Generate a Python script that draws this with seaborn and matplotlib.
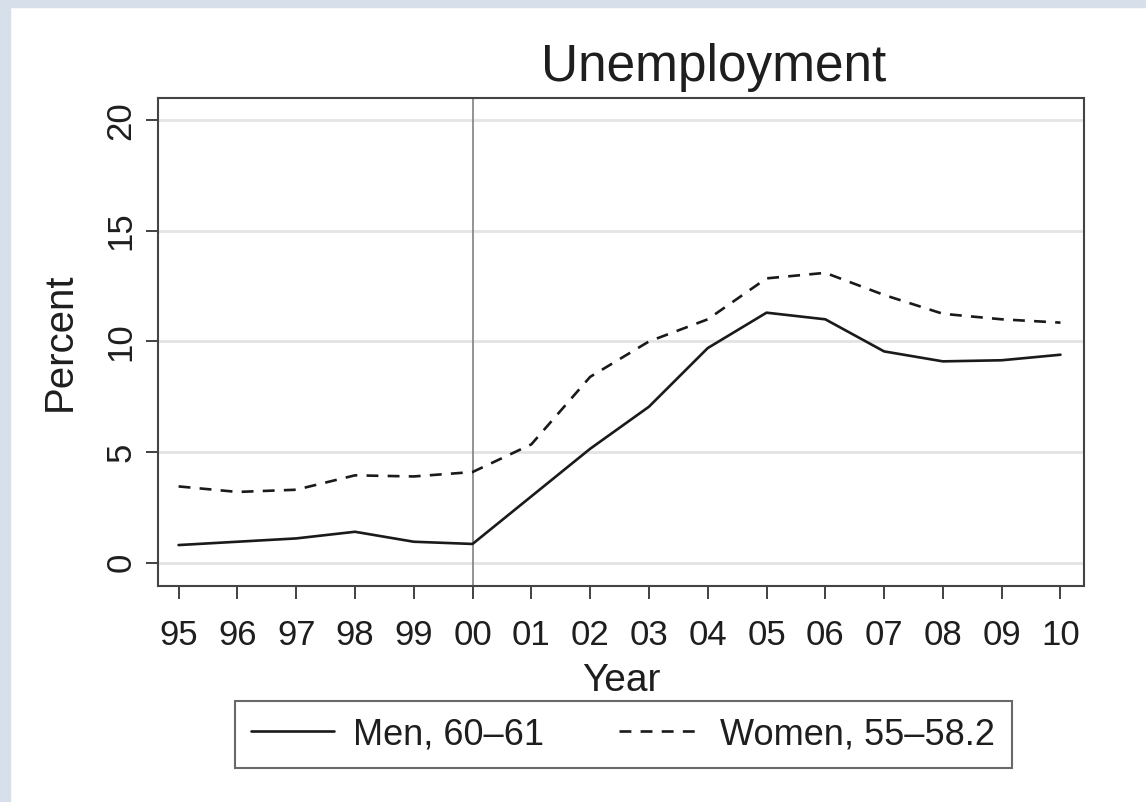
import numpy as np
import pandas as pd
import matplotlib
matplotlib.use("Agg")
import matplotlib.pyplot as plt
from matplotlib.patches import Rectangle
import seaborn as sns

# 연도 라벨과 두 그룹의 실업률(%)
year_labels = ['95', '96', '97', '98', '99', '00', '01', '02',
               '03', '04', '05', '06', '07', '08', '09', '10']
men_60_61 = [0.8, 0.95, 1.1, 1.4, 0.95, 0.85, 3.0, 5.15,
             7.05, 9.7, 11.3, 11.0, 9.55, 9.1, 9.15, 9.4]
women_55_58 = [3.45, 3.2, 3.3, 3.95, 3.9, 4.1, 5.35, 8.4,
               10.0, 11.0, 12.85, 13.1, 12.1, 11.25, 11.0, 10.85]
series_names = ['Men, 60\u201361', 'Women, 55\u201358.2']
reform_year = '00'
y_ticks = [0, 5, 10, 15, 20]

sns.set_theme(style='white')
plt.rcParams['font.family'] = ['Liberation Sans', 'DejaVu Sans']

df = pd.DataFrame({
    'pos': list(range(len(year_labels))) * 2,
    'value': men_60_61 + women_55_58,
    'series': [series_names[0]] * len(year_labels) + [series_names[1]] * len(year_labels),
})

fig = plt.figure(figsize=(11.46, 8.02), dpi=100)
fig.patch.set_facecolor('white')
# 바깥 테두리 (위/왼쪽 연한 회청색)
fig.patches.append(Rectangle((0, 0), 10 / 1146, 1, transform=fig.transFigure,
                             color='#d7e0ea', zorder=0))
fig.patches.append(Rectangle((0, 1 - 7 / 802), 1, 7 / 802, transform=fig.transFigure,
                             color='#d7e0ea', zorder=0))

ax = fig.add_axes([158 / 1146, 1 - 586 / 802, (1084 - 158) / 1146, (586 - 98) / 802])

lw = 1.9
sns.lineplot(data=df, x='pos', y='value', style='series',
             dashes={series_names[0]: '', series_names[1]: (4.5, 3.5)},
             color='#1a1a1a', linewidth=lw, legend=False, ax=ax)

for yt in y_ticks:
    ax.axhline(yt, color='#e3e3e3', lw=2, zorder=0)
ax.axvline(year_labels.index(reform_year), color='#8a8a8a', lw=1.3, zorder=1)

ax.set_xlim(-0.35, 15.4)
ax.set_ylim(-1.05, 21.0)
ax.set_xticks(range(len(year_labels)))
ax.set_xticklabels(year_labels)
ax.set_yticks(y_ticks)
ax.set_yticklabels([str(v) for v in y_ticks], rotation=90, va='center')
ax.tick_params(axis='both', which='both', direction='out', length=9, width=1.3,
               color='#333333', labelsize=25, labelcolor='#1e1e1e', pad=6,
               bottom=True, left=True)
ax.tick_params(axis='x', pad=15)

for sp in ax.spines.values():
    sp.set_color('#444444')
    sp.set_linewidth(1.5)

ax.set_xlabel('Year', fontsize=28, color='#1e1e1e', labelpad=8)
ax.set_ylabel('Percent', fontsize=29, color='#1e1e1e', labelpad=18)
ax.set_title('Unemployment', fontsize=37, color='#1e1e1e', x=0.6, pad=12)

handles = [plt.Line2D([], [], color='#1a1a1a', lw=lw),
           plt.Line2D([], [], color='#1a1a1a', lw=lw, dashes=(4.5, 3.5))]
leg = fig.legend(handles, series_names, loc='center', bbox_to_anchor=(0.544, 0.084),
                 ncol=2, fontsize=26, frameon=True, fancybox=False,
                 handlelength=2.3, columnspacing=2.1, handletextpad=0.5,
                 borderpad=0.45, edgecolor='#444444')
leg.get_frame().set_linewidth(1.5)
for t in leg.get_texts():
    t.set_color('#1e1e1e')

fig.savefig('out.png', dpi=100, facecolor=fig.get_facecolor())
